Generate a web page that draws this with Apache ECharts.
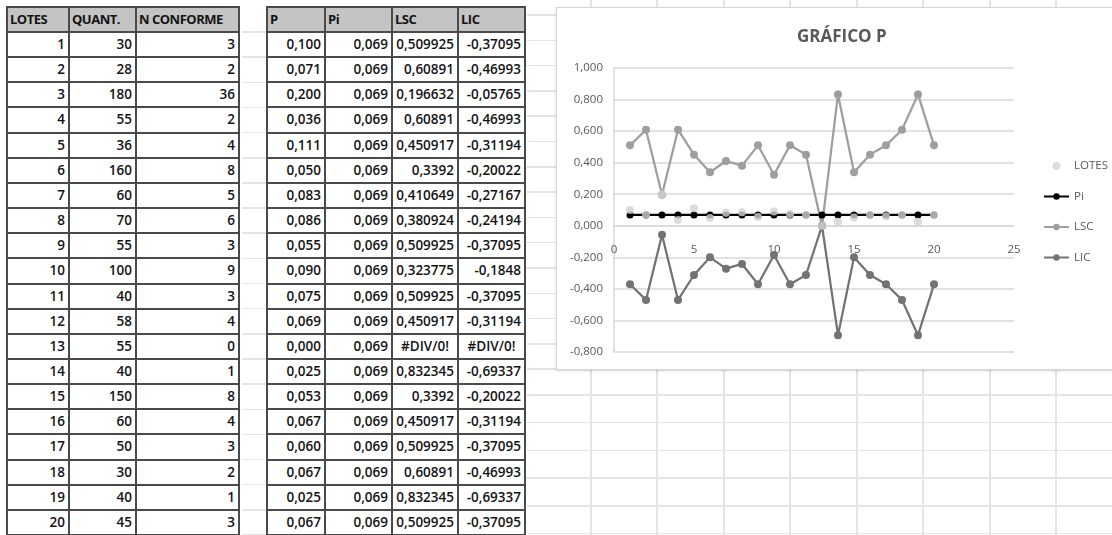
<!DOCTYPE html>
<html>
<head>
<meta charset="utf-8">
<script src="https://cdn.jsdelivr.net/npm/echarts@6/dist/echarts.min.js"></script>
<style>
  html, body { margin:0; padding:0; background:#fff; }
  body { width:1112px; height:535px; position:relative; overflow:hidden; font-family:"Open Sans", sans-serif; }
  .ln { position:absolute; background:#e4e4e4; }
  .cell { position:absolute; box-sizing:border-box; white-space:nowrap; overflow:hidden; color:#141414; font-size:13.5px; font-weight:600; }
  .hdr { background:#c4c4c4; font-weight:700; font-size:13px; letter-spacing:-0.5px; padding-left:3px; text-align:left; }
  .num { text-align:right; padding-right:4px; }
  .err { text-align:center; }
  .bd { position:absolute; background:#4a4a4a; }
  #box { position:absolute; left:556px; top:7px; width:600px; height:363px; background:#fff; border:1px solid #d6d6d6; box-shadow:0 1px 2px rgba(0,0,0,0.18); box-sizing:border-box; }
  #chart { position:absolute; left:0; top:0; width:1112px; height:535px; }
</style>
</head>
<body>
<div id="bg"></div>
<div id="tables"></div>
<div id="box"></div>
<div id="chart"></div>
<script>
// ---- data ----
const lotes = [1,2,3,4,5,6,7,8,9,10,11,12,13,14,15,16,17,18,19,20];
const quant = [30,28,180,55,36,160,60,70,55,100,40,58,55,40,150,60,50,30,40,45];
const nConforme = [3,2,36,2,4,8,5,6,3,9,3,4,0,1,8,4,3,2,1,3];
const pVals = ["0,100","0,071","0,200","0,036","0,111","0,050","0,083","0,086","0,055","0,090","0,075","0,069","0,000","0,025","0,053","0,067","0,060","0,067","0,025","0,067"];
const piVals = ["0,069","0,069","0,069","0,069","0,069","0,069","0,069","0,069","0,069","0,069","0,069","0,069","0,069","0,069","0,069","0,069","0,069","0,069","0,069","0,069"];
const lscVals = ["0,509925","0,60891","0,196632","0,60891","0,450917","0,3392","0,410649","0,380924","0,509925","0,323775","0,509925","0,450917","#DIV/0!","0,832345","0,3392","0,450917","0,509925","0,60891","0,832345","0,509925"];
const licVals = ["-0,37095","-0,46993","-0,05765","-0,46993","-0,31194","-0,20022","-0,27167","-0,24194","-0,37095","-0,1848","-0,37095","-0,31194","#DIV/0!","-0,69337","-0,20022","-0,31194","-0,37095","-0,46993","-0,69337","-0,37095"];
const headers1 = ["LOTES","QUANT.","N CONFORME"];
const headers2 = ["P","Pi","LSC","LIC"];
const legendNames = ["LOTES","Pi","LSC","LIC"];
const chartTitle = "GRÁFICO P";

// ---- background spreadsheet grid ----
const bg = document.getElementById('bg');
function line(x, y, w, h) {
  const d = document.createElement('div'); d.className = 'ln';
  d.style.left = x + 'px'; d.style.top = y + 'px'; d.style.width = w + 'px'; d.style.height = h + 'px';
  bg.appendChild(d);
}
for (let k = 0; k <= 20; k++) line(242, 32 + 25.15 * k - 0.75, 24, 1.5);
for (let y = 15; y < 372; y += 25.3) line(527, y - 0.75, 40, 1.5);
for (let y = 395; y < 540; y += 27.7) line(527, y - 0.75, 600, 1.5);
[591, 657, 724, 790, 857, 923, 990, 1056].forEach(x => line(x - 0.75, 0, 1.5, 535));

// ---- tables ----
const tables = document.getElementById('tables');
function buildTable(edges, headers, cols) {
  const top = 7, hdrBottom = 32, rowH = 25.15;
  const rowEdges = [top, hdrBottom];
  for (let r = 1; r <= 20; r++) rowEdges.push(hdrBottom + rowH * r);
  for (let r = 0; r < rowEdges.length - 1; r++) {
    for (let c = 0; c < edges.length - 1; c++) {
      const d = document.createElement('div');
      const y0 = rowEdges[r], y1 = rowEdges[r + 1];
      d.style.left = edges[c] + 'px'; d.style.top = y0 + 'px';
      d.style.width = (edges[c + 1] - edges[c]) + 'px'; d.style.height = (y1 - y0) + 'px';
      d.style.lineHeight = (y1 - y0) + 'px';
      if (r === 0) { d.className = 'cell hdr'; d.textContent = headers[c]; }
      else {
        const v = String(cols[c][r - 1]);
        d.className = 'cell ' + (v.startsWith('#') ? 'err' : 'num');
        d.textContent = v;
      }
      tables.appendChild(d);
    }
  }
  const x0 = edges[0], x1 = edges[edges.length - 1];
  rowEdges.forEach(y => { const b = document.createElement('div'); b.className = 'bd';
    b.style.left = (x0 - 1) + 'px'; b.style.top = (y - 1) + 'px'; b.style.width = (x1 - x0 + 2) + 'px'; b.style.height = '2px'; tables.appendChild(b); });
  edges.forEach(x => { const b = document.createElement('div'); b.className = 'bd';
    b.style.left = (x - 1) + 'px'; b.style.top = (rowEdges[0] - 1) + 'px'; b.style.width = '2px'; b.style.height = (rowEdges[rowEdges.length - 1] - rowEdges[0] + 2) + 'px'; tables.appendChild(b); });
}
buildTable([7, 69, 136, 239], headers1, [lotes, quant, nConforme]);
buildTable([267, 325, 392, 458, 525], headers2, [pVals, piVals, lscVals, licVals]);

// ---- chart ----
// Excel plots error cells (#DIV/0!) as zero in this chart
const toNum = s => s.startsWith('#') ? 0 : parseFloat(s.replace(',', '.'));
const pts = arr => lotes.map((x, i) => [x, toNum(arr[i])]);
const fmt = v => (Math.abs(v) < 1e-9 ? 0 : v).toFixed(3).replace('.', ',');

const chart = echarts.init(document.getElementById('chart'), null, { renderer: 'canvas' });
const txt = '#595959';
const plotTop = 68, plotLeft = 614, plotW = 400, plotH = 284;
const xRange = { min: 0, max: 25, interval: 5 };
chart.setOption({
  animation: false,
  textStyle: { fontFamily: 'Open Sans' },
  title: { text: chartTitle, left: 792, top: 24,
    textStyle: { fontFamily: 'Open Sans', fontWeight: 'bold', fontSize: 17, color: txt } },
  grid: [
    { left: plotLeft, top: plotTop, width: plotW, height: plotH },
    // helper grid whose bottom edge sits on the y = 0 line (set below from the y scale)
    { left: plotLeft, top: plotTop, width: plotW, height: plotH / 2 }
  ],
  legend: {
    data: legendNames, orient: 'vertical', left: 1038, top: 154,
    itemWidth: 25, itemHeight: 8, itemGap: 16.5,
    textStyle: { color: txt, fontSize: 11.5, fontFamily: 'Open Sans', lineHeight: 14 }
  },
  xAxis: [
    { type: 'value', gridIndex: 0, ...xRange,
      axisLine: { show: false }, axisTick: { show: false }, splitLine: { show: false }, axisLabel: { show: false } },
    { type: 'value', gridIndex: 1, ...xRange, position: 'bottom',
      axisLine: { show: true, onZero: false, lineStyle: { color: '#d9d9d9', width: 1.5 } },
      axisTick: { show: false }, splitLine: { show: false },
      axisLabel: { color: txt, fontSize: 11.5, margin: 18 } }
  ],
  yAxis: [
    { type: 'value', gridIndex: 0, min: -0.8, max: 1.0, interval: 0.2,
      axisLine: { show: true, onZero: false, lineStyle: { color: '#d9d9d9', width: 1.5 } },
      axisTick: { show: false },
      splitLine: { lineStyle: { color: '#d9d9d9', width: 1.5 } },
      axisLabel: { color: txt, fontSize: 11.5, margin: 11, formatter: fmt } },
    { type: 'value', gridIndex: 1, min: 0, max: 1, show: false }
  ],
  series: [
    { name: 'LOTES', type: 'scatter', data: pts(pVals), symbol: 'circle', symbolSize: 8,
      itemStyle: { color: '#d3d3d3' }, z: 5 },
    { name: 'Pi', type: 'line', data: pts(piVals), symbol: 'circle', symbolSize: 7, showAllSymbol: true,
      lineStyle: { color: '#000', width: 2.25 }, itemStyle: { color: '#000' }, z: 3 },
    { name: 'LSC', type: 'line', data: pts(lscVals), symbol: 'circle', symbolSize: 8, showAllSymbol: true,
      lineStyle: { color: '#9e9e9e', width: 2.25 }, itemStyle: { color: '#9e9e9e' }, z: 3 },
    { name: 'LIC', type: 'line', data: pts(licVals), symbol: 'circle', symbolSize: 8, showAllSymbol: true,
      lineStyle: { color: '#737373', width: 2.25 }, itemStyle: { color: '#737373' }, z: 3 }
  ]
});
// place the labelled x axis on the y = 0 line using the y scale
const zeroY = chart.convertToPixel({ yAxisIndex: 0 }, 0);
chart.setOption({ grid: [{}, { height: zeroY - plotTop }] });
</script>
</body>
</html>
